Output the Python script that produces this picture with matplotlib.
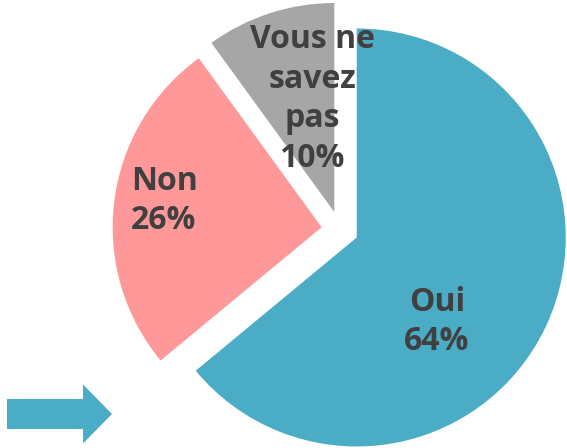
import matplotlib.pyplot as plt
from matplotlib.patches import FancyArrow

W, H = 567, 448

categories = ["Oui", "Non", "Vous ne\nsavez\npas"]
values = [64, 26, 10]
colors = ["#4BACC6", "#FF9999", "#A6A6A6"]

# label centres in pixel space (image y goes down)
label_pos = [(437, 322), (164, 201), (312, 99)]

plt.rcParams['font.family'] = ['Open Sans', 'DejaVu Sans']

fig = plt.figure(figsize=(W / 100, H / 100), dpi=100)
ax = fig.add_axes([0, 0, 1, 1])

ax.pie(values, colors=colors, startangle=90, counterclock=False,
       radius=209, center=(340, H - 229.6), explode=[18.5] * len(values),
       wedgeprops=dict(linewidth=0), frame=False)

for cat, v, (px, py) in zip(categories, values, label_pos):
    ax.text(px, H - py, f"{cat}\n{v}%", ha="center", va="center",
            fontsize=23, fontweight="bold", color="#404040",
            linespacing=1.26)

# decorative arrow bottom-left
arrow = FancyArrow(7, H - 414, 105, 0, width=30, head_width=59,
                   head_length=29, length_includes_head=True,
                   color="#4BACC6", linewidth=0)
ax.add_patch(arrow)

ax.set_xlim(0, W)
ax.set_ylim(0, H)
ax.set_aspect("equal")
ax.axis("off")

fig.savefig("out.png", dpi=100)
